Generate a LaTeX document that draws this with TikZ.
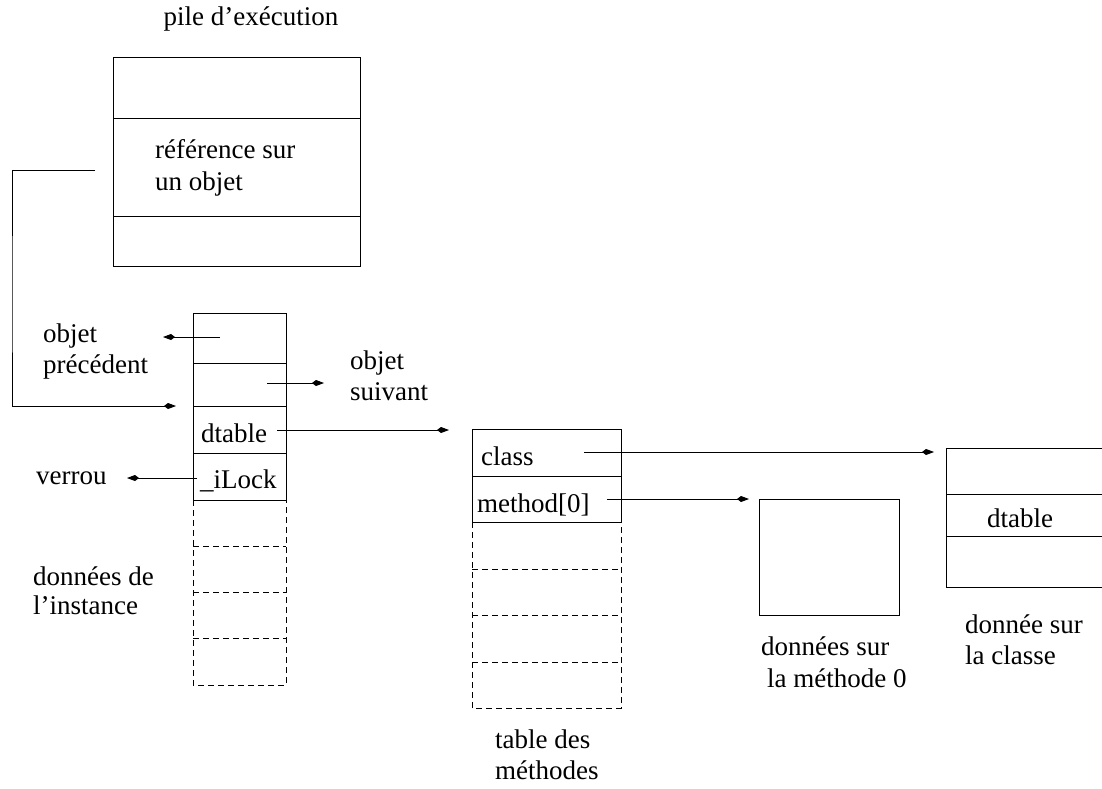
\documentclass[tikz,border=0pt]{standalone}
\usepackage{fontspec}
\setmainfont{Liberation Serif}
\usetikzlibrary{arrows.meta}

\begin{document}
\begin{tikzpicture}[x=1pt,y=-1pt,
  cell/.style={draw, line width=0.9pt, inner sep=0pt, outer sep=0pt, anchor=north west},
  slot/.style={inner sep=0pt, outer sep=0pt, anchor=north west},
  dsh/.style={line width=0.9pt, dash pattern=on 6pt off 4pt},
  lbl/.style={inner sep=0pt, anchor=base west, font=\fontsize{27}{32}\selectfont},
  ptr/.style={line width=0.9pt, -{Kite[length=12pt,width=6pt,inset=4pt]}}]
\useasboundingbox (0,0) rectangle (1102,789);
\clip (0,0) rectangle (1102,789);

% execution stack
\node[lbl, anchor=base] (pileT) at (251,26) {pile d’exécution};
\node[cell, minimum width=247pt, minimum height=61pt] (st1) at (113,57) {};
\node[cell, minimum width=247pt, minimum height=98pt] (st2) at (113,118) {};
\node[cell, minimum width=247pt, minimum height=50pt] (st3) at (113,216) {};
\node[lbl] (refA) at (155,158) {référence sur};
\node[lbl] (refB) at (155,190) {un objet};

% object layout: header fields
\node[cell, minimum width=93pt, minimum height=50pt] (ob1) at (193,313) {};
\node[cell, minimum width=93pt, minimum height=43pt] (ob2) at (193,363) {};
\node[cell, minimum width=93pt, minimum height=47pt] (ob3) at (193,406) {};
\node[cell, minimum width=93pt, minimum height=47pt] (ob4) at (193,453) {};
% object layout: instance data slots
\node[slot, minimum width=93pt, minimum height=46pt] (ob5) at (193,500) {};
\node[slot, minimum width=93pt, minimum height=46pt] (ob6) at (193,546) {};
\node[slot, minimum width=93pt, minimum height=46pt] (ob7) at (193,592) {};
\node[slot, minimum width=93pt, minimum height=47pt] (ob8) at (193,638) {};
\draw[dsh] (ob5.north west) rectangle (ob8.south east);
\foreach \s in {ob6,ob7,ob8} \draw[dsh] (\s.north west) -- (\s.north east);
\node[lbl] (obDt) at (201,442) {dtable};
\node[lbl] (obLk) at (200,488) {\_iLock};

\node[lbl] (precA) at (43,342) {objet};
\node[lbl] (precB) at (43,373) {précédent};
\node[lbl] (suivA) at (350,369) {objet};
\node[lbl] (suivB) at (350,400) {suivant};
\node[lbl] (verrou) at (36,484) {verrou};
\node[lbl] (instA) at (33,585) {données de};
\node[lbl] (instB) at (33,614) {l’instance};

% method table
\node[cell, minimum width=149pt, minimum height=47pt] (mt1) at (472,429) {};
\node[cell, minimum width=149pt, minimum height=46pt] (mt2) at (472,476) {};
\node[slot, minimum width=149pt, minimum height=47pt] (mt3) at (472,522) {};
\node[slot, minimum width=149pt, minimum height=46pt] (mt4) at (472,569) {};
\node[slot, minimum width=149pt, minimum height=47pt] (mt5) at (472,615) {};
\node[slot, minimum width=149pt, minimum height=46pt] (mt6) at (472,662) {};
\draw[dsh] (mt3.north west) rectangle (mt6.south east);
\foreach \s in {mt4,mt5,mt6} \draw[dsh] (\s.north west) -- (\s.north east);
\node[lbl] (mtCl) at (481,465) {class};
\node[lbl] (mtM0) at (477,512) {method[0]};
\node[lbl] (mtA) at (495,748) {table des};
\node[lbl] (mtB) at (495,779) {méthodes};

% method data
\node[cell, minimum width=140pt, minimum height=116pt] (meth) at (759,499) {};
\node[lbl] (methA) at (761,655) {données sur};
\node[lbl] (methB) at (767,687) {la méthode 0};

% class data
\node[cell, minimum width=170pt, minimum height=46pt] (cl1) at (946,448) {};
\node[cell, minimum width=170pt, minimum height=42pt] (cl2) at (946,494) {};
\node[cell, minimum width=170pt, minimum height=51pt] (cl3) at (946,536) {};
\node[lbl] (clDt) at (987,527) {dtable};
\node[lbl] (clA) at (965,633) {donnée sur};
\node[lbl] (clB) at (965,664) {la classe};

% pointers
\coordinate (refOut) at (95,170);
\coordinate (wireL) at (12,300);
\coordinate (objIn) at (176,406);
\draw[ptr] (refOut) -| (wireL) |- (objIn);

\coordinate (precS) at (220,337);
\coordinate (precE) at (163,337);
\draw[ptr] (precS) -- (precE);

\coordinate (suivS) at (267,383);
\coordinate (suivE) at (324,383);
\draw[ptr] (suivS) -- (suivE);

\coordinate (dtS) at (277,430);
\coordinate (dtE) at (449,430);
\draw[ptr] (dtS) -- (dtE);

\coordinate (lkS) at (197,478);
\coordinate (lkE) at (127,478);
\draw[ptr] (lkS) -- (lkE);

\coordinate (clS) at (584,452);
\coordinate (clE) at (934,452);
\draw[ptr] (clS) -- (clE);

\coordinate (m0S) at (607,499);
\coordinate (m0E) at (749,499);
\draw[ptr] (m0S) -- (m0E);
\end{tikzpicture}
\end{document}
